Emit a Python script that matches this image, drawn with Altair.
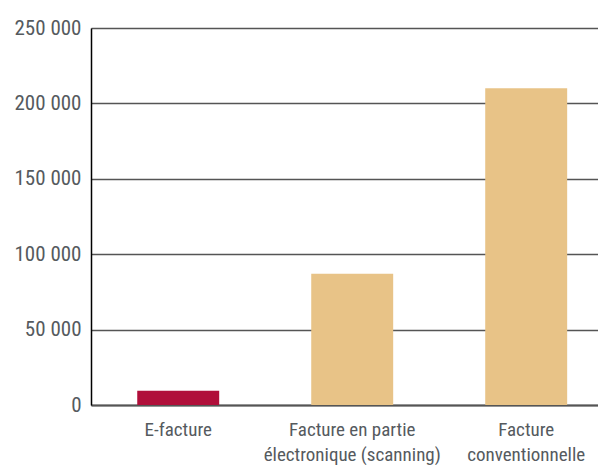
import altair as alt
import pandas as pd

categories = ["E-facture", "Facture en partie\nélectronique (scanning)", "Facture\nconventionnelle"]
values = [9500, 87000, 210000]
colors = ["#B00F3A", "#E8C387", "#E8C387"]

df = pd.DataFrame({"cat": categories, "val": values})

FONT = "Roboto Condensed, Liberation Sans Narrow, DejaVu Sans Condensed, Arial Narrow, Roboto, sans-serif"

chart = alt.Chart(df).mark_bar().encode(
    x=alt.X("cat:N", sort=None, title=None,
            scale=alt.Scale(paddingInner=0.529, paddingOuter=0.2215, align=0.6),
            axis=alt.Axis(labelAngle=0, labelExpr="split(datum.label, '\\n')",
                          labelFontSize=19, labelColor="#555a5e", labelFont=FONT,
                          labelLineHeight=25, labelPadding=15, ticks=False,
                          labelLimit=0, labelOverlap=False,
                          domainColor="#555555", domainWidth=2)),
    y=alt.Y("val:Q", title=None,
            scale=alt.Scale(domain=[0, 250000], nice=False),
            axis=alt.Axis(values=[0, 50000, 100000, 150000, 200000, 250000],
                          labelExpr="replace(format(datum.value, ',d'), ',', ' ')",
                          labelFontSize=21, labelColor="#555a5e", labelFont=FONT,
                          labelPadding=10, ticks=False, domainColor="#000000", domainWidth=1.5,
                          grid=True, gridColor="#555555", gridWidth=1.3)),
    color=alt.Color("cat:N", sort=None, legend=None,
                    scale=alt.Scale(domain=categories, range=colors)),
).properties(
    width=507, height=377,
    autosize=alt.AutoSizeParams(type="none"),
    padding={"left": 83, "top": 20, "right": 0, "bottom": 60},
).configure_view(stroke=None).configure(background="#ffffff")

chart.save("out.html", embed_options={"renderer": "svg", "actions": False})
